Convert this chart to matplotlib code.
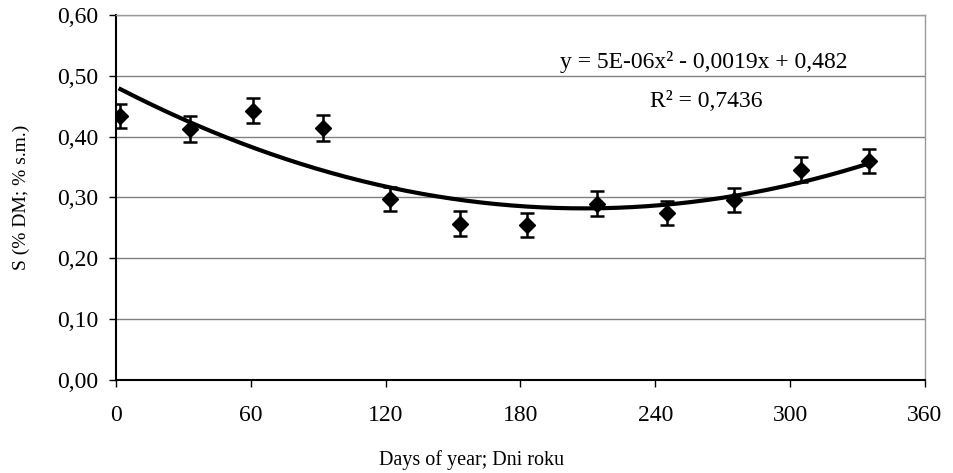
import numpy as np
import matplotlib
matplotlib.use("Agg")
import matplotlib.pyplot as plt
from matplotlib.ticker import FuncFormatter, MultipleLocator

plt.rcParams['font.family'] = ['Liberation Serif', 'DejaVu Serif']

# day of year, sulphur content and error
days = np.array([2, 33, 61, 92, 122, 153, 183, 214, 245, 275, 305, 335])
s_val = np.array([0.434, 0.413, 0.443, 0.414, 0.298, 0.257, 0.255, 0.290, 0.274, 0.296, 0.346, 0.360])
s_err = np.array([0.020, 0.021, 0.021, 0.021, 0.020, 0.020, 0.020, 0.021, 0.020, 0.020, 0.020, 0.020])

eq_text = "y = 5E-06x² - 0,0019x + 0,482"
r2_text = "R² = 0,7436"

fig = plt.figure(figsize=(9.54, 4.73), dpi=100)
ax = fig.add_axes([116 / 954, 1 - 380 / 473, 809 / 954, 365 / 473])

# trend line (2nd order poly)
coef = np.polyfit(days, s_val, 2)
xx = np.linspace(days[0], days[-1], 200)
ax.plot(xx, np.polyval(coef, xx), color="black", lw=3, zorder=3)

ax.errorbar(days, s_val, yerr=s_err, fmt="D", color="black", ms=8.5,
            elinewidth=1.8, capsize=5, capthick=1.8, zorder=4)

ax.set_xlim(0, 360)
ax.set_ylim(0, 0.6)
ax.xaxis.set_major_locator(MultipleLocator(60))
ax.yaxis.set_major_locator(MultipleLocator(0.1))
ax.yaxis.set_major_formatter(FuncFormatter(lambda v, p: ("%.2f" % v).replace(".", ",")))
ax.grid(axis="y", color="#808080", lw=1)
ax.set_axisbelow(True)

for s in ["top", "right"]:
    ax.spines[s].set_color("#999999")
    ax.spines[s].set_linewidth(1)
ax.spines["left"].set_linewidth(1.5)
ax.spines["bottom"].set_linewidth(1.5)
ax.tick_params(axis="both", labelsize=17, length=5, width=1, direction="out")
ax.tick_params(axis="x", pad=13)
ax.tick_params(axis="y", pad=8)

ax.set_ylabel("S (% DM; % s.m.)", fontsize=14, labelpad=19)
fig.text(472 / 954, 1 - 465 / 473, "Days of year; Dni roku", ha="center", va="baseline", fontsize=14.5)

ax.text(0.727, 0.871, eq_text, transform=ax.transAxes, ha="center", va="center", fontsize=17)
ax.text(0.729, 0.762, r2_text, transform=ax.transAxes, ha="center", va="center", fontsize=17)

fig.savefig("out.png", dpi=100)
